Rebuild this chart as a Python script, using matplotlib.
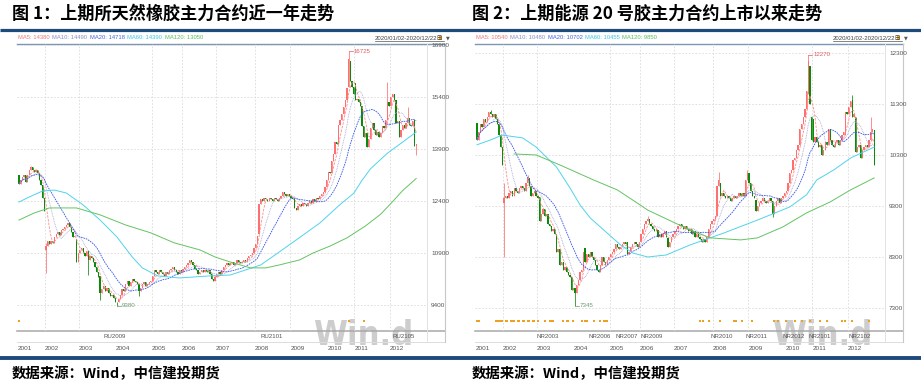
import numpy as np
import pandas as pd
import matplotlib
matplotlib.use('Agg')
import matplotlib.pyplot as plt
from matplotlib import font_manager as fm
from matplotlib.font_manager import FontProperties
import matplotlib.transforms as mtransforms

# ------------------------------------------------------------------ data
holidays = ['2020-01-24', '2020-01-27', '2020-01-28', '2020-01-29', '2020-01-30',
            '2020-01-31', '2020-04-06', '2020-05-01', '2020-05-04', '2020-05-05',
            '2020-06-25', '2020-06-26', '2020-10-01', '2020-10-02', '2020-10-05',
            '2020-10-06', '2020-10-07', '2020-10-08']
first_day, last_day = '2020-01-02', '2020-12-22'

# 上期所天然橡胶 (RU) daily closes
ru_close = [
    12900, 13000, 13100, 13150, 12950, 13150, 13300, 13380, 13300, 13250, 13280, 13200, 13000, 12850, 12500, 12100,
    11100, 11250, 11150, 11250, 11200, 11350, 11450, 11500, 11420, 11550, 11600, 11650, 11700, 11760, 11650, 11500, 11350, 11400, 10650, 10900,
    11000, 11050, 10900, 10800, 10950, 10700, 10800, 10750, 10650, 10500, 10350, 10200, 9750, 9850, 9950, 9800, 9900, 9750, 9650, 9700, 9600, 9500,
    9480, 9560, 9700, 9850, 9800, 10000, 10100, 9950, 10050, 10150, 10100, 10050, 10000, 9800, 9900, 10000, 10050, 9950, 10000, 10050, 10100,
    10250, 10400, 10350, 10300, 10400, 10350, 10300, 10250, 10350, 10300, 10400, 10450, 10500, 10400, 10350, 10300, 10400, 10350,
    10450, 10500, 10550, 10600, 10700, 10650, 10550, 10450, 10400, 10300, 10350, 10400, 10350, 10400, 10350, 10400, 10300, 10150, 10100, 10200,
    10300, 10350, 10300, 10400, 10500, 10550, 10600, 10550, 10600, 10650, 10550, 10600, 10700, 10650, 10600, 10650, 10700, 10650, 10750, 10800, 10850, 10900, 11050,
    11150, 11400, 12300, 12450, 12400, 12500, 12450, 12400, 12500, 12450, 12400, 12500, 12450, 12400, 12500, 12550, 12650, 12600, 12550, 12600, 12550,
    12500, 12450, 12200, 12150, 12250, 12300, 12250, 12350, 12300, 12250, 12350, 12400, 12350, 12450, 12400, 12500, 12450, 12550, 12600, 12650, 12800, 13000,
    13250, 13200, 13550, 13750, 14100, 14050, 14600, 14750, 14900, 15100, 15300, 15650, 16500, 15850, 15700, 15500,
    15300, 15350, 15250, 15150, 14550, 14250, 14350, 13950, 14200, 14500, 14650, 14450, 14300, 14400, 14250, 14350, 14550, 14500, 14750, 15250, 15150,
    15400, 15500, 15300, 14650, 14700, 14250, 14450, 14600, 14500, 14650, 14800, 14600, 14550, 14700, 14000, 14050]
ru_first_open = 13150
ru_open_ovr = {16: 11000, 34: 11300, 48: 10250, 142: 11450, 195: 15700, 196: 16450,
               199: 15800, 203: 15150, 206: 14350, 218: 14750, 223: 15300, 234: 14750}
ru_high_ovr = {7: 13420, 16: 11200, 195: 16725, 218: 15830, 230: 15110}
ru_low_ovr = {16: 10320, 41: 10270, 48: 9550, 58: 9380, 71: 9650, 235: 13730}
ru_ma60_idx = [0, 6, 14, 21, 28, 38, 48, 58, 67, 73, 82, 95, 113, 125, 143, 154, 164, 178, 190, 198, 203, 208, 218, 227, 235]
ru_ma60 = [12370, 12515, 12690, 12715, 12630, 12285, 11850, 11360, 10785, 10470, 10240, 10180, 10240, 10265,
           10555, 10930, 11275, 11765, 12300, 12620, 13000, 13330, 13780, 14100, 14390]
ru_ma120_idx = [0, 9, 18, 34, 48, 63, 78, 92, 107, 116, 125, 137, 146, 154, 166, 174, 184, 194, 205, 214, 221, 227, 235]
ru_ma120 = [11850, 12055, 12200, 12200, 12000, 11710, 11480, 11190, 10990, 10785, 10640, 10470, 10470, 10555,
            10700, 10900, 11100, 11335, 11680, 12020, 12380, 12700, 13050]
ru_yticks = [9400, 10900, 12400, 13900, 15400, 16900]
ru_contracts = ['RU2009', 'RU2101', 'RU2105']
ru_contract_idx = [50, 143, 221]
ru_signal_idx = [0, 195, 204]

# 上期能源 20号胶 (NR) daily closes
nr_close = [
    10600, 10750, 10900, 10850, 11000, 10950, 11050, 11150, 11100, 11050, 11100, 11000, 10900, 10700, 10450, 10100,
    9450, 9500, 9450, 9550, 9600, 9500, 9650, 9600, 9550, 9650, 9700, 9650, 9600, 9750, 9850, 9700, 9500, 9550, 9600, 9500,
    9450, 9000, 9150, 9250, 9100, 9150, 8950, 8900, 8800, 8850, 8750, 8400, 8450, 8150, 8200, 8050, 8100, 8000, 7950, 7900, 7650, 7700,
    7600, 7750, 7850, 8000, 8050, 8400, 8200, 8350, 8300, 8400, 8300, 8250, 8150, 8050, 8000, 8150, 8300, 8200, 8150, 8250, 8300,
    8350, 8400, 8450, 8550, 8500, 8450, 8500, 8550, 8600, 8550, 8350, 8400, 8500, 8550, 8600, 8550, 8500, 8600,
    8750, 8850, 8950, 9000, 9050, 8950, 8900, 8850, 8800, 8850, 8700, 8750, 8700, 8750, 8800, 8700, 8500, 8600, 8700, 8750,
    8800, 8850, 8900, 8950, 8900, 8850, 8900, 8850, 8800, 8850, 8750, 8800, 8700, 8750, 8700, 8650, 8600, 8650, 8600, 8700, 8850, 8950, 9000,
    9050, 9100, 9700, 9800, 9500, 9550, 9500, 9450, 9500, 9450, 9400, 9450, 9500, 9450, 9500, 9550, 9500, 9550, 9500, 9800, 9950,
    9750, 9600, 9500, 9450, 9200, 9300, 9350, 9400, 9450, 9400, 9350, 9400, 9450, 9400, 9150, 9300, 9400, 9450, 9350, 9450, 9500, 9550,
    9600, 9750, 9950, 10000, 10200, 10250, 10400, 10500, 10800, 10900, 11050, 11200, 11550, 12150, 11300, 10600,
    10550, 10650, 10550, 10450, 10500, 10300, 10400, 10550, 10500, 10800, 10600, 10500, 10450, 10550, 10600, 10500, 10600, 10700, 10750, 11150, 11100,
    11250, 11350, 11050, 11100, 10350, 10450, 10500, 10250, 10400, 10450, 10500, 10450, 10600, 10750, 10800, 10100]
nr_first_open = 10920
nr_open_ovr = {16: 9350, 37: 9480, 64: 8470, 89: 8600, 107: 8830, 113: 8670, 142: 9100, 144: 9750,
               165: 9420, 175: 9400, 196: 11500, 197: 12050, 198: 11050, 199: 11000, 218: 10700,
               222: 11380, 224: 11050, 235: 10790}
nr_high_ovr = {8: 11180, 16: 9750, 30: 9900, 101: 9100, 143: 9960, 160: 10000, 196: 12270, 222: 11470, 233: 11040}
nr_low_ovr = {16: 8300, 58: 7345, 175: 9080}
nr_ma60_idx = [0, 8, 15, 27, 35, 47, 55, 61, 67, 77, 85, 92, 101, 112, 126, 146, 166, 185, 195, 201, 211, 221, 235]
nr_ma60 = [10500, 10595, 10690, 10635, 10455, 10065, 9655, 9320, 9065, 8770, 8535, 8380, 8300, 8340,
           8535, 8770, 9025, 9280, 9520, 9810, 10005, 10240, 10455]
nr_ma120_idx = [22, 35, 49, 69, 83, 92, 101, 116, 126, 138, 156, 166, 181, 195, 209, 221, 235]
nr_ma120 = [10320, 10300, 10105, 9810, 9615, 9420, 9220, 8985, 8830, 8675, 8635, 8675, 8890, 9165, 9380, 9615, 9850]
nr_yticks = [7300, 8300, 9300, 10300, 11300, 12300]
nr_contracts = ['NR2003', 'NR2006', 'NR2007', 'NR2009', 'NR2010', 'NR2011', 'NR2012', 'NR2101', 'NR2102']
nr_contract_idx = [35, 66, 82, 97, 138, 159, 181, 196, 220]
nr_signal_idx = [0, 1, 11, 12, 13, 14, 15, 17, 18, 20, 21, 22, 24, 25, 27, 28, 30, 31, 33, 34, 36, 40, 43, 44,
                 45, 51, 53, 54, 57, 62, 64, 65, 69, 73, 75, 76, 77, 132, 134, 137, 144, 152, 153, 157, 163,
                 176, 178, 183, 188, 192, 197, 203, 207, 216, 218, 222, 232]

titles = ['图 1：上期所天然橡胶主力合约近一年走势', '图 2：上期能源 20 号胶主力合约上市以来走势']
source_text = '数据来源：Wind，中信建投期货'
watermark = 'Win.d'

# ------------------------------------------------------------------ setup
W, H = 921, 387
fig = plt.figure(figsize=(W / 100, H / 100), dpi=100)
fig.patch.set_facecolor('white')
over = fig.add_axes([0, 0, 1, 1])
over.set_xlim(0, W)
over.set_ylim(H, 0)
over.axis('off')
rend = fig.canvas.get_renderer()

ttf = fm.fontManager.ttflist
names = {f.name for f in ttf}
NARROW = 'Liberation Sans Narrow' if 'Liberation Sans Narrow' in names else 'Liberation Sans'
CJK = ['Noto Sans CJK SC', 'DejaVu Sans']
NAVY = '#1f4a7c'

# condensed font for the watermark, if one is installed
cond = [f for f in ttf if ('Narrow' in f.name or 'Condensed' in f.name or
                           str(f.stretch) in ('condensed', 'semi-condensed', 'extra-condensed',
                                              'ultra-condensed'))]
cond.sort(key=lambda f: 0 if str(f.weight) in ('bold', '700') else 1)
if cond:
    WM_FP = FontProperties(fname=cond[0].fname)
else:
    WM_FP = FontProperties(family='Liberation Sans', weight='bold')

dates = pd.bdate_range(first_day, last_day)
dates = dates[~dates.isin(pd.to_datetime(holidays))]
n = len(dates)
assert len(ru_close) == n and len(nr_close) == n
month_starts = [i for i in range(n) if i == 0 or dates[i].month != dates[i - 1].month]


def px_rect(x0, y0, x1, y1):
    return [x0 / W, 1 - y1 / H, (x1 - x0) / W, (y1 - y0) / H]


def build_ohlc(close, first_open, open_ovr, high_ovr, low_ovr):
    c = np.array(close, float)
    o = np.concatenate([[first_open], c[:-1]])
    for k, v in open_ovr.items():
        o[k] = v
    h = np.maximum(o, c)
    l = np.minimum(o, c)
    for k, v in high_ovr.items():
        h[k] = max(h[k], v)
    for k, v in low_ovr.items():
        l[k] = min(l[k], v)
    return o, h, l, c


# header / footer bars
over.plot([0, W], [29.5, 29.5], color=NAVY, lw=2.3, solid_capstyle='butt')
over.plot([0, W], [357.5, 357.5], color=NAVY, lw=2.8, solid_capstyle='butt')


def add_watermark(x_left, width_px):
    fp = WM_FP.copy()
    fp.set_size(40)
    t = over.text(x_left, 345, watermark, fontproperties=fp, color='#cdcdcd',
                  ha='left', va='baseline', zorder=0)
    w = t.get_window_extent(rend).width
    size = 40 * width_px / w
    fp.set_size(min(size, 48))
    t.set_fontproperties(fp)


def panel(off, toff, title, close, first_open, o_ovr, h_ovr, l_ovr, ylim, yticks,
          m60i, m60, m120i, m120, contracts, cidx, sig, wm_x):
    o, h, l, c = build_ohlc(close, first_open, o_ovr, h_ovr, l_ovr)
    s = pd.Series(c)
    ma5 = s.rolling(5, min_periods=1).mean()
    ma10 = s.rolling(10, min_periods=1).mean()
    ma20 = s.rolling(20, min_periods=1).mean()

    # title & source
    over.text(toff + 12, 14, title, fontsize=12.3, weight='bold', family=CJK,
              va='center', ha='left', color='#000000')
    over.text(toff + 12, 374, source_text, fontsize=10.4, weight='bold', family=CJK,
              va='center', ha='left', color='#000000')

    # frame lines
    x0, x1, x2 = off + 17, off + 427, off + 445
    over.plot([x0, x2], [44, 44], color='#7d97b3', lw=1.0)
    over.plot([x0, x2], [331, 331], color='#a8a8a8', lw=1.1)
    over.plot([x0, x2], [342, 342], color='#dcdcdc', lw=0.7)
    over.plot([x1, x1], [44, 342], color='#e2e2e2', lw=0.7)
    over.plot([x2, x2], [44, 342], color='#c8c8c8', lw=0.8)

    add_watermark(wm_x, 100)

    ax = fig.add_axes(px_rect(off + 17, 44, off + 427, 331))
    ax.set_facecolor('none')
    for sp in ax.spines.values():
        sp.set_visible(False)
    ax.set_xlim(-1.18, 241.4)
    ax.set_ylim(*ylim)
    x = np.arange(n)

    # grid
    ax.set_yticks(yticks)
    ax.set_yticklabels([str(v) for v in yticks])
    ax.yaxis.tick_right()
    ax.tick_params(axis='y', length=0, pad=3, labelsize=4.6, labelcolor='#555555')
    for t in ax.get_yticklabels():
        t.set_family(NARROW)
    ax.grid(axis='y', color='#dadada', lw=0.6, ls=(0, (2, 2)))
    for i in month_starts[1:]:
        if dates[i].month in (4, 10):
            continue
        ax.axvline(i - 0.5, color='#dadada', lw=0.6, ls=(0, (2, 2)), zorder=0)

    ax.set_xticks([i - 0.5 for i in month_starts])
    ax.set_xticklabels([dates[i].strftime('%y%m') for i in month_starts])
    ax.tick_params(axis='x', length=0, pad=10.5, labelsize=4.6, labelcolor='#555555')
    for t in ax.get_xticklabels():
        t.set_family(NARROW)
        t.set_ha('left')

    # candles
    up = c >= o
    red, green = '#ff6f6f', '#0a8a0a'
    ax.vlines(x[up], l[up], h[up], colors=red, lw=0.55, zorder=2)
    ax.vlines(x[~up], l[~up], h[~up], colors=green, lw=0.55, zorder=2)
    hgt = c - o
    hgt = np.where(np.abs(hgt) < 15, 15, hgt)
    ax.bar(x[up], hgt[up], bottom=o[up], width=0.75, color=red, lw=0, zorder=2)
    ax.bar(x[~up], hgt[~up], bottom=o[~up], width=0.8, color=green, lw=0, zorder=2)

    # moving averages
    ax.plot(x, ma5, color='#ff8a8a', lw=0.6, ls=(0, (3, 1.5)), zorder=3)
    ax.plot(x, ma10, color='#a4a4d6', lw=0.6, ls=(0, (1, 1)), zorder=3)
    ax.plot(x, ma20, color='#3556e6', lw=0.6, ls=(0, (2, 1)), zorder=3)
    ax.plot(m60i, m60, color='#4fd3ec', lw=0.7, zorder=3)
    ax.plot(m120i, m120, color='#62c462', lw=0.7, zorder=3)

    # extreme labels
    imax, imin = int(np.argmax(h)), int(np.argmin(l))
    ax.plot([imax, imax + 2.5], [h[imax], h[imax]], color='#e05a5a', lw=0.5, zorder=4)
    ax.text(imax + 3, h[imax], '%d' % h[imax], fontsize=4.4, family=NARROW,
            color='#e05a5a', va='center', ha='left', zorder=4)
    ax.plot([imin, imin + 2.5], [l[imin], l[imin]], color='#6a9a6a', lw=0.5, zorder=4)
    ax.text(imin + 3, l[imin], '%d' % l[imin], fontsize=4.4, family=NARROW,
            color='#6a9a6a', va='center', ha='left', zorder=4)

    # contract labels and signal dots
    tr = mtransforms.blended_transform_factory(ax.transData, ax.transAxes)
    for name, i in zip(contracts, cidx):
        ax.text(i, -0.018, name, transform=tr, fontsize=4.4, family=NARROW,
                color='#555555', va='center', ha='left', clip_on=False)
    ax.scatter(sig, [0.035] * len(sig), transform=tr, marker='s', s=1.6,
               color='#f0a020', lw=0, zorder=4, clip_on=False)

    # legend row
    items = [('MA5: %d' % round(ma5.iloc[-1]), '#f07878'),
             ('MA10: %d' % round(ma10.iloc[-1]), '#8c8cc8'),
             ('MA20: %d' % round(ma20.iloc[-1]), '#4a63e0'),
             ('MA60: %d' % round(m60[-1]), '#3cc8e6'),
             ('MA120: %d' % round(m120[-1]), '#5cbf5c')]
    xx = off + 18
    for txt, col in items:
        t = over.text(xx, 37.5, txt, fontsize=4.2, family=NARROW, color=col,
                      va='center', ha='left')
        xx += t.get_window_extent(rend).width + 2.5
    rng = '%s-%s日' % (dates[0].strftime('%Y/%m/%d'), dates[-1].strftime('%Y/%m/%d'))
    t = over.text(off + 375, 38, rng, fontsize=4.3, family=[NARROW, 'Noto Sans CJK SC'],
                  color='#444444', va='center', ha='left')
    wdt = t.get_window_extent(rend).width
    over.plot([off + 375, off + 375 + wdt], [41.2, 41.2], color='#555555', lw=0.5)
    over.text(off + 377 + wdt, 38, '▼', fontsize=3.5, family='DejaVu Sans',
              color='#555555', va='center', ha='left')
    over.add_patch(plt.Rectangle((off + 439, 35.5), 3, 4, color='#f2a31b', lw=0))
    return ax


panel(0, 0, titles[0], ru_close, ru_first_open, ru_open_ovr, ru_high_ovr, ru_low_ovr,
      (8650, 16929), ru_yticks, ru_ma60_idx, ru_ma60, ru_ma120_idx, ru_ma120,
      ru_contracts, ru_contract_idx, ru_signal_idx, 313)
panel(458, 460, titles[1], nr_close, nr_first_open, nr_open_ovr, nr_high_ovr, nr_low_ovr,
      (6849, 12476), nr_yticks, nr_ma60_idx, nr_ma60, nr_ma120_idx, nr_ma120,
      nr_contracts, nr_contract_idx, nr_signal_idx, 772)

fig.savefig('out.png', dpi=100, facecolor='white')
